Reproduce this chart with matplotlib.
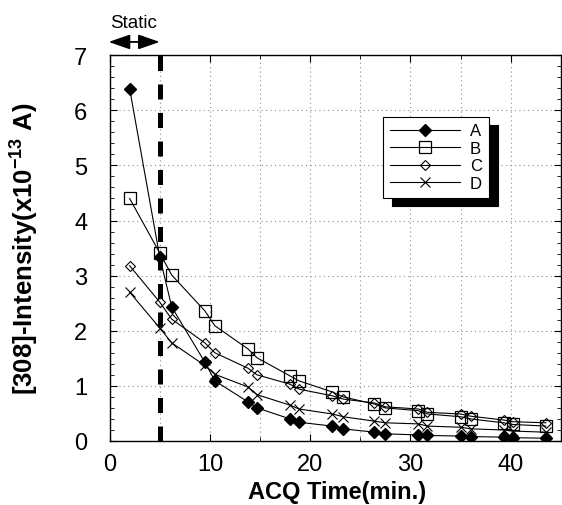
import matplotlib
matplotlib.use("Agg")
import matplotlib.pyplot as plt
from matplotlib.ticker import MultipleLocator

plt.rcParams['font.family'] = ['Liberation Sans', 'DejaVu Sans']
plt.rcParams['mathtext.fontset'] = 'custom'
plt.rcParams['mathtext.rm'] = 'Liberation Sans'
plt.rcParams['mathtext.bf'] = 'Liberation Sans:bold'

# ---- data ----
t = [2.0, 5.0, 6.2, 9.5, 10.5, 13.8, 14.7, 18.0, 18.9, 22.2, 23.3,
     26.4, 27.5, 30.8, 31.7, 35.0, 36.0, 39.3, 40.2, 43.5]
A = [6.39, 3.34, 2.43, 1.43, 1.09, 0.71, 0.60, 0.40, 0.34, 0.27, 0.22,
     0.16, 0.13, 0.11, 0.10, 0.09, 0.08, 0.07, 0.06, 0.05]
B = [4.40, 3.41, 3.01, 2.36, 2.09, 1.67, 1.51, 1.18, 1.09, 0.89, 0.80,
     0.67, 0.60, 0.55, 0.49, 0.44, 0.40, 0.33, 0.30, 0.27]
C = [3.18, 2.52, 2.21, 1.78, 1.60, 1.32, 1.20, 1.03, 0.94, 0.82, 0.76,
     0.69, 0.62, 0.58, 0.52, 0.49, 0.45, 0.38, 0.35, 0.33]
D = [2.70, 2.05, 1.78, 1.37, 1.21, 0.98, 0.84, 0.65, 0.58, 0.49, 0.44,
     0.36, 0.33, 0.31, 0.27, 0.25, 0.22, 0.20, 0.18, 0.16]
static_end = 5.0
xticks = [0, 10, 20, 30, 40]
yticks = [0, 1, 2, 3, 4, 5, 6, 7]

fig = plt.figure(figsize=(5.62, 5.06), dpi=100)
ax = fig.add_axes([0.195, 0.1265, 0.803, 0.7625])

lw = 0.8
ax.plot(t, A, '-', color='k', lw=lw, marker='D', ms=6.5, mfc='k', mec='k', label='A', zorder=5)
ax.plot(t, B, '-', color='k', lw=lw, marker='s', ms=8, mfc='none', mec='k', mew=0.9, label='B', zorder=4)
ax.plot(t, C, '-', color='k', lw=lw, marker='D', ms=5.5, mfc='none', mec='k', mew=0.8, label='C', zorder=4)
ax.plot(t, D, '-', color='k', lw=lw, marker='x', ms=7.5, mec='k', mew=0.8, label='D', zorder=4)

ax.axvline(static_end, color='k', lw=3.6, dashes=(3.0, 2.7), zorder=6)

ax.set_xlim(0, 45)
ax.set_ylim(0, 7)
ax.set_xticks(xticks)
ax.set_yticks(yticks)
ax.xaxis.set_minor_locator(MultipleLocator(5))
ax.yaxis.set_minor_locator(MultipleLocator(0.2))
ax.tick_params(which='both', direction='in', top=True, right=True)
ax.tick_params(which='major', length=5, labelsize=17)
ax.tick_params(axis='y', which='major', pad=16)
ax.tick_params(axis='x', which='major', pad=9)
ax.tick_params(which='minor', length=3)
ax.grid(True, which='major', axis='y', color='0.55', ls=(0, (1, 3)), lw=0.8)
ax.grid(True, which='both', axis='x', color='0.55', ls=(0, (1, 3)), lw=0.8)
for s in ax.spines.values():
    s.set_linewidth(1.0)

ax.set_xlabel('ACQ Time(min.)', fontsize=17, fontweight='bold')
ax.xaxis.set_label_coords(0.503, -0.1)
ax.set_ylabel('[308]-Intensity(x10$^{\\mathbf{-13}}$ A)', fontsize=18.5, fontweight='bold')
ax.yaxis.set_label_coords(-0.155, 0.5)

# Static annotation
ax.annotate('', xy=(-0.1, 7.24), xytext=(5.0, 7.24),
            arrowprops=dict(arrowstyle='<|-|>,head_length=1.3,head_width=0.45',
                            color='k', lw=1.3, mutation_scale=10, shrinkA=0, shrinkB=0),
            annotation_clip=False)
ax.text(2.4, 7.6, 'Static', ha='center', va='center', fontsize=13.5, clip_on=False)

leg = ax.legend(loc='upper left', bbox_to_anchor=(0.588, 0.862), fontsize=12,
                handlelength=4.2, frameon=True, fancybox=False, edgecolor='k',
                framealpha=1, borderpad=0.4, labelspacing=0.15, handletextpad=0.6,
                shadow={'ox': 6.5, 'oy': -6, 'color': 'k', 'alpha': 1})
leg.get_frame().set_linewidth(0.8)
leg.set_zorder(10)

fig.savefig('out.png', dpi=100)
